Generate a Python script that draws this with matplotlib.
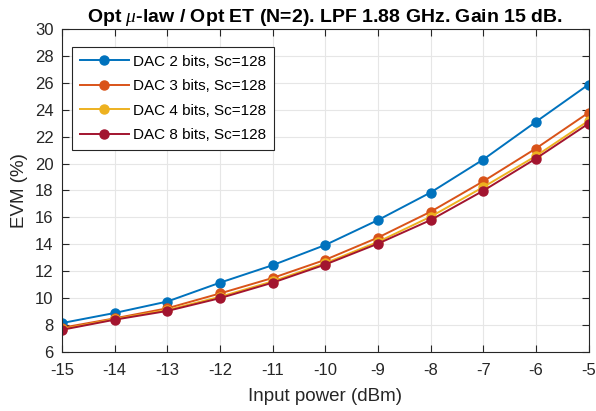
import matplotlib
matplotlib.use("Agg")
import matplotlib.pyplot as plt

plt.rcParams['font.family'] = ['Liberation Sans', 'DejaVu Sans']
plt.rcParams['mathtext.fontset'] = 'custom'
plt.rcParams['mathtext.it'] = 'Liberation Serif:italic'

x = [-15, -14, -13, -12, -11, -10, -9, -8, -7, -6, -5]
dac2 = [8.15, 8.9, 9.75, 11.15, 12.45, 13.95, 15.8, 17.85, 20.3, 23.1, 25.87]
dac3 = [7.8, 8.5, 9.25, 10.35, 11.5, 12.85, 14.5, 16.42, 18.68, 21.12, 23.78]
dac4 = [7.7, 8.45, 9.12, 10.1, 11.25, 12.6, 14.18, 16.05, 18.25, 20.56, 23.18]
dac8 = [7.65, 8.4, 9.05, 10.0, 11.15, 12.5, 14.05, 15.8, 17.98, 20.37, 22.97]
labels = ['DAC 2 bits, Sc=128', 'DAC 3 bits, Sc=128', 'DAC 4 bits, Sc=128', 'DAC 8 bits, Sc=128']
colors = ['#0072BD', '#D95319', '#EDB120', '#A2142F']

fig = plt.figure(figsize=(5.96, 4.11), dpi=100)
ax = fig.add_axes([62 / 596, 1 - 352 / 411, 526.5 / 596, 323 / 411])
for y, lab, c in zip([dac2, dac3, dac4, dac8], labels, colors):
    ax.plot(x, y, '-o', color=c, label=lab, lw=1.4, ms=6.5)

ax.set_xlim(-15, -5)
ax.set_ylim(6, 30)
ax.set_xticks(x)
ax.set_xticklabels([str(v) for v in x])
ax.set_yticks(list(range(6, 31, 2)))
ax.tick_params(direction='in', labelsize=12, length=5, width=0.8, top=True, right=True, colors='#262626')
ax.tick_params(axis='x', pad=8)
ax.tick_params(axis='y', pad=6)
ax.grid(True, color='#e6e6e6', lw=0.8)
ax.set_axisbelow(True)
for s in ax.spines.values():
    s.set_color('#262626')
    s.set_linewidth(0.8)
ax.set_xlabel('Input power (dBm)', fontsize=13.5, color='#262626')
ax.set_ylabel('EVM (%)', fontsize=13.5, color='#262626')
ax.xaxis.set_label_coords(0.5, -0.139)
ax.xaxis.label.set_va('center')
ax.yaxis.set_label_coords(-0.08, 0.5)
ax.yaxis.label.set_va('center')
ax.set_title(r'Opt $\mu$-law / Opt ET (N=2). LPF 1.88 GHz. Gain 15 dB.', fontsize=14, fontweight='bold', pad=5)
leg = ax.legend(loc='upper left', bbox_to_anchor=(0.019, 0.944), fontsize=11, frameon=True, fancybox=False,
                edgecolor='#262626', framealpha=1, borderpad=0.5, labelspacing=0.68, handlelength=3.2,
                handletextpad=0.3, borderaxespad=0)
leg.get_frame().set_linewidth(0.8)
fig.savefig('out.png', dpi=100)
